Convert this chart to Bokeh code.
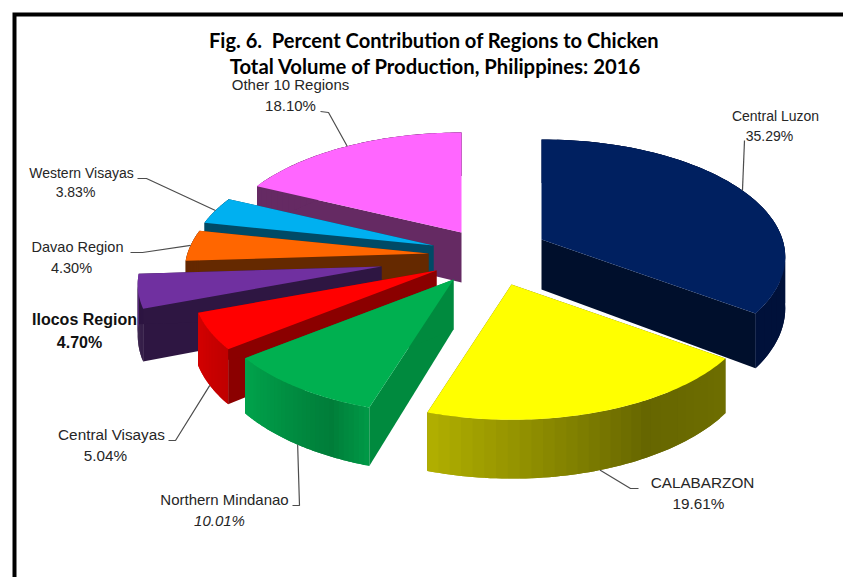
import math
from bokeh.plotting import figure
from bokeh.models import Range1d, ColumnDataSource
from bokeh.core.properties import value
from bokeh.embed import file_html
from bokeh.resources import INLINE

# ---- data
regions = ["Central Luzon", "CALABARZON", "Northern Mindanao", "Central Visayas",
           "Ilocos Region", "Davao Region", "Western Visayas", "Other 10 Regions"]
percent = [35.29, 19.61, 10.01, 5.04, 4.70, 4.30, 3.83, 18.10]
title_lines = ["Fig. 6.\u00a0 Percent Contribution of Regions to Chicken",
               "Total Volume of Production, Philippines: 2016"]

# ---- styles and layout
top_col = ["#002060", "#FFFF00", "#00B050", "#FF0000", "#7030A0", "#FF6600", "#00B0F0", "#FF66FF"]
cut_col = ["#000F2C", "#666600", "#008A3E", "#8B0000", "#2E1642", "#652900", "#004A66", "#652A63"]
wall_stops = [
    [(0, "#00113A"), (1, "#00113A")],
    [(0, "#6E6E00"), (0.35, "#666600"), (1, "#B2B000")],
    [(0, "#009A47"), (0.25, "#007D39"), (1, "#00A44C")],
    [(0, "#C00000"), (1, "#D40000")],
    [(0, "#2E1642"), (0.7, "#2E1642"), (1, "#6A2F98")],
    [(0, "#652900"), (1, "#652900")],
    [(0, "#004A66"), (1, "#004A66")],
    [(0, "#652A63"), (1, "#652A63")],
]
apex_x = [541, 511, 453, 436, 381, 428, 433, 461]
apex_y = [239, 284, 279, 270, 266, 253, 245, 232]
RX, RY, PERSP, DEPTH = 241, 115, 0.15, 50
# small correction of the pie's drawn angle at the CALABARZON / Northern Mindanao seam
edge_nudge = {2: 1.5}
draw_order = [7, 6, 5, 4, 3, 2, 0, 1]
leader_on_wall = [False, True, True, True, False, False, False, False]
# label: x/y of each text line, elbow of the leader (None = no leader)
lab1 = [(775, 115), (702, 482), (224, 499), (111, 434), (84, 319), (77, 246), (81, 172), (290, 84)]
lab2 = [(769, 135), (698, 503), (219, 520), (105, 455), (79, 342), (71, 267), (75, 191), (290, 105)]
elbow = [[(744, 140)], [(638, 488), (630, 488)], [(292, 505), (299, 505)], [(168, 440), (175, 440)],
         None, [(130, 252), (142, 252)], [(137, 178), (146, 178)], [(320, 111), (328, 112)]]
lab_size = [14, 15.3, 15, 15.3, 16, 14.5, 14, 15]
title_size = [20.1, 20.3]

W, H = 843, 577


def rgb(h):
    return [int(h[i:i + 2], 16) for i in (1, 3, 5)]


def stop_color(stops, t):
    for (a, ca), (b, cb) in zip(stops, stops[1:]):
        if t <= b:
            f = (t - a) / (b - a)
            return "#%02x%02x%02x" % tuple(round(u + (v - u) * f) for u, v in zip(rgb(ca), rgb(cb)))
    return stops[-1][1]


def proj(i, deg):
    th = math.radians(deg)
    s = 1 / (1 + PERSP * math.cos(th))
    return apex_x[i] + RX * math.sin(th) * s, apex_y[i] - RY * math.cos(th) * s, DEPTH * s


total = sum(percent)
edges = [0.0]
for v in percent:
    edges.append(edges[-1] + v / total * 360)
for k, d in edge_nudge.items():
    edges[k] += d

xs, ys, fills = [], [], []


def add(px, py, c):
    xs.append(px); ys.append(py); fills.append(c)


for i in draw_order:
    a0, a1 = edges[i], edges[i + 1]
    ax, ay = apex_x[i], apex_y[i]
    # cut faces
    for a in (a0, a1):
        x, y, d = proj(i, a)
        add([ax, x, x, ax], [ay, y, y + d, ay + DEPTH], cut_col[i])
    # outer wall as overlapping strips to carry the shading without seams
    n = 30
    for k in range(n):
        b0 = a0 + (a1 - a0) * k / n
        b1 = a0 + (a1 - a0) * min(k + 2, n) / n
        sub = [proj(i, b0 + (b1 - b0) * m / 4) for m in range(5)]
        add([q[0] for q in sub] + [q[0] for q in reversed(sub)],
            [q[1] for q in sub] + [q[1] + q[2] for q in reversed(sub)],
            stop_color(wall_stops[i], (k + 0.5) / n))
    # top face
    pts = [proj(i, a0 + (a1 - a0) * k / 80) for k in range(81)]
    add([ax] + [q[0] for q in pts], [ay] + [q[1] for q in pts], top_col[i])

p = figure(width=W, height=H, output_backend="svg", toolbar_location=None,
           x_range=Range1d(0, W), y_range=Range1d(H, 0),
           min_border=0, outline_line_color=None, background_fill_color="white")
p.axis.visible = False
p.grid.visible = False

# frame
p.line([14, 14, W], [H, 14, 14], line_color="black", line_width=4, line_join="miter")

src = ColumnDataSource(dict(xs=xs, ys=ys, fill=fills))
p.patches("xs", "ys", source=src, fill_color="fill", line_color=None)

# leaders
for i, e in enumerate(elbow):
    if e is None:
        continue
    x, y, d = proj(i, (edges[i] + edges[i + 1]) / 2)
    if leader_on_wall[i]:
        y += d
    p.line([q[0] for q in e] + [x], [q[1] for q in e] + [y], line_color="#4d4d4d", line_width=1.2)

# labels
for i, r in enumerate(regions):
    bold = r == "Ilocos Region"
    ital = r == "Northern Mindanao"
    p.text([lab1[i][0]], [lab1[i][1]], text=[r], text_font=value("Liberation Sans"),
           text_font_size=f"{lab_size[i]}px", text_align="center", text_baseline="middle",
           text_color="#111111" if bold else "#262626", text_font_style="bold" if bold else "normal")
    p.text([lab2[i][0]], [lab2[i][1]], text=[f"{percent[i]:.2f}%"], text_font=value("Liberation Sans"),
           text_font_size=f"{lab_size[i]}px", text_align="center", text_baseline="middle",
           text_color="#111111" if bold else "#262626",
           text_font_style="bold" if bold else ("italic" if ital else "normal"))

# title
for t, x, y, sz in zip(title_lines, (433.5, 435), (39, 65), title_size):
    p.text([x], [y], text=[t], text_font=value("Lato"), text_font_size=f"{sz}px",
           text_font_style="bold", text_align="center", text_baseline="middle", text_color="black")

open("out.html", "w").write(file_html(p, INLINE))
